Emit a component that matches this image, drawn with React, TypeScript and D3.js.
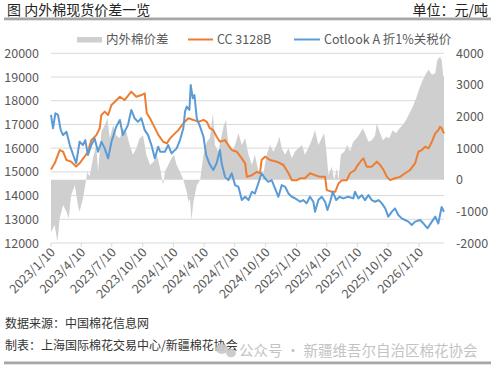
import React from "react";
import * as d3 from "d3";

// 数据：CC 3128B、Cotlook A（折1%关税）与内外棉价差（元/吨）
const ccSeries: [string, number][] = [
  ["2023-01-10", 15100], ["2023-01-21", 15360], ["2023-02-05", 15920], ["2023-02-15", 15850],
  ["2023-02-25", 15500], ["2023-03-11", 15430], ["2023-03-26", 15220], ["2023-04-05", 15360],
  ["2023-04-20", 15640], ["2023-04-30", 15850], ["2023-05-10", 16340], ["2023-05-25", 16550],
  ["2023-06-04", 16840], ["2023-06-09", 17400], ["2023-06-19", 17540], ["2023-06-29", 17400],
  ["2023-07-09", 17820], ["2023-07-19", 17960], ["2023-08-03", 18170], ["2023-08-17", 18030],
  ["2023-09-06", 18380], ["2023-09-21", 18170], ["2023-10-06", 18240], ["2023-10-16", 18310],
  ["2023-10-22", 17480], ["2023-11-01", 17250], ["2023-11-11", 16970], ["2023-11-26", 16550],
  ["2023-12-10", 16270], ["2023-12-21", 16200], ["2023-12-30", 16410], ["2024-01-09", 16550],
  ["2024-01-24", 16760], ["2024-02-08", 17050], ["2024-02-23", 17260], ["2024-03-09", 17190],
  ["2024-03-24", 17110], ["2024-04-08", 17190], ["2024-04-18", 17110], ["2024-04-27", 16840],
  ["2024-05-07", 16760], ["2024-05-17", 16480], ["2024-05-27", 16270], ["2024-06-11", 16340],
  ["2024-06-21", 16130], ["2024-07-01", 15920], ["2024-07-16", 15850], ["2024-07-31", 15570],
  ["2024-08-10", 15360], ["2024-08-15", 14790], ["2024-08-30", 14860], ["2024-09-14", 15000],
  ["2024-09-23", 14940], ["2024-09-28", 15500], ["2024-10-08", 15640], ["2024-10-23", 15500],
  ["2024-11-12", 15430], ["2024-12-02", 15290], ["2024-12-17", 14940], ["2024-12-27", 14650],
  ["2025-01-11", 14650], ["2025-01-21", 14730], ["2025-02-04", 14730], ["2025-02-19", 14940],
  ["2025-03-06", 14860], ["2025-03-21", 14790], ["2025-04-05", 14790], ["2025-04-10", 14230],
  ["2025-04-25", 14160], ["2025-05-05", 14160], ["2025-05-15", 14510], ["2025-05-25", 14650],
  ["2025-06-09", 14650], ["2025-06-18", 14940], ["2025-07-03", 15080], ["2025-07-08", 15220],
  ["2025-07-23", 15500], ["2025-07-28", 15570], ["2025-08-07", 15220], ["2025-08-22", 15220],
  ["2025-09-06", 15430], ["2025-09-16", 15290], ["2025-09-26", 15080], ["2025-10-06", 14790],
  ["2025-10-16", 14650], ["2025-10-30", 14730], ["2025-11-14", 14790], ["2025-11-29", 14940],
  ["2025-12-14", 15080], ["2025-12-29", 15360], ["2026-01-08", 15850], ["2026-01-18", 15920],
  ["2026-01-28", 16060], ["2026-02-07", 15990], ["2026-02-17", 16270], ["2026-02-27", 16620],
  ["2026-03-08", 16760], ["2026-03-13", 16900], ["2026-03-18", 16840], ["2026-03-25", 16620],
];

const cotlookSeries: [string, number][] = [
  ["2023-01-10", 17400], ["2023-01-16", 16840], ["2023-01-23", 17470], ["2023-01-31", 17400],
  ["2023-02-08", 16760], ["2023-02-15", 16550], ["2023-02-25", 16690], ["2023-03-07", 16130],
  ["2023-03-17", 15710], ["2023-03-26", 15360], ["2023-04-05", 16270], ["2023-04-15", 16130],
  ["2023-04-22", 16340], ["2023-04-30", 15710], ["2023-05-10", 16130], ["2023-05-20", 16410],
  ["2023-05-30", 15850], ["2023-06-09", 16270], ["2023-06-19", 15990], ["2023-06-29", 15570],
  ["2023-07-09", 16270], ["2023-07-23", 16900], ["2023-08-03", 17190], ["2023-08-12", 16550],
  ["2023-08-27", 16970], ["2023-09-06", 17610], ["2023-09-16", 17260], ["2023-09-26", 17110],
  ["2023-10-06", 17260], ["2023-10-16", 16760], ["2023-10-26", 16550], ["2023-11-05", 16130],
  ["2023-11-15", 15570], ["2023-11-25", 16060], ["2023-12-01", 15850], ["2023-12-15", 15850],
  ["2023-12-25", 16130], ["2024-01-04", 15780], ["2024-01-19", 15990], ["2024-01-29", 16340],
  ["2024-02-08", 16840], ["2024-02-13", 17540], ["2024-02-18", 17750], ["2024-02-26", 17610],
  ["2024-03-01", 18660], ["2024-03-07", 18100], ["2024-03-12", 18240], ["2024-03-19", 17260],
  ["2024-03-29", 16900], ["2024-04-08", 16480], ["2024-04-16", 15710], ["2024-04-25", 15360],
  ["2024-05-07", 15080], ["2024-05-17", 15360], ["2024-05-27", 15920], ["2024-06-01", 15360],
  ["2024-06-11", 14790], ["2024-06-21", 14650], ["2024-07-01", 14940], ["2024-07-11", 14440],
  ["2024-07-21", 14370], ["2024-07-31", 13810], ["2024-08-10", 13950], ["2024-08-20", 13810],
  ["2024-08-30", 14160], ["2024-09-08", 14090], ["2024-09-18", 14510], ["2024-09-28", 14940],
  ["2024-10-08", 14730], ["2024-10-18", 14580], ["2024-10-28", 14650], ["2024-11-07", 14300],
  ["2024-11-17", 13950], ["2024-11-27", 14440], ["2024-12-07", 14370], ["2024-12-17", 14090],
  ["2024-12-27", 13950], ["2025-01-06", 13880], ["2025-01-21", 13740], ["2025-01-30", 13810],
  ["2025-02-09", 13670], ["2025-02-19", 13950], ["2025-03-01", 13740], ["2025-03-06", 13320],
  ["2025-03-16", 13810], ["2025-03-26", 13950], ["2025-04-05", 13740], ["2025-04-12", 13390],
  ["2025-04-20", 13740], ["2025-04-28", 14160], ["2025-05-08", 13810], ["2025-05-18", 13950],
  ["2025-05-29", 13880], ["2025-06-13", 13950], ["2025-06-28", 13880], ["2025-07-03", 14160],
  ["2025-07-13", 13880], ["2025-07-23", 14020], ["2025-08-02", 13810], ["2025-08-12", 14020],
  ["2025-08-22", 13810], ["2025-09-01", 13740], ["2025-09-11", 13810], ["2025-09-21", 13670],
  ["2025-10-01", 13460], ["2025-10-10", 13110], ["2025-10-21", 13320], ["2025-10-30", 13460],
  ["2025-11-09", 13180], ["2025-11-19", 13040], ["2025-11-29", 12970], ["2025-12-09", 12900],
  ["2025-12-19", 12760], ["2025-12-29", 12900], ["2026-01-13", 12970], ["2026-01-23", 12820],
  ["2026-02-04", 12620], ["2026-02-17", 12900], ["2026-02-27", 13110], ["2026-03-08", 12820],
  ["2026-03-18", 13520], ["2026-03-25", 13320],
];

const spreadSeries: [string, number][] = [
  ["2023-01-10", -1650], ["2023-01-21", -1430], ["2023-01-29", -1960], ["2023-02-05", -1220],
  ["2023-02-15", -800], ["2023-02-25", -1010], ["2023-03-04", -1220], ["2023-03-11", -480],
  ["2023-03-22", -170], ["2023-03-31", -800], ["2023-04-05", -1010], ["2023-04-15", -590],
  ["2023-04-22", -170], ["2023-04-28", 250], ["2023-05-05", 100], ["2023-05-15", 680],
  ["2023-05-25", 1100], ["2023-05-30", 250], ["2023-06-09", 1520], ["2023-06-19", 1730],
  ["2023-06-27", 1940], ["2023-07-04", 1310], ["2023-07-14", 1730], ["2023-07-23", 1410],
  ["2023-08-03", 1310], ["2023-08-12", 1620], ["2023-08-22", 1520], ["2023-09-01", 1100],
  ["2023-09-11", 790], ["2023-09-21", 1000], ["2023-10-01", 1310], ["2023-10-11", 1410],
  ["2023-10-21", 790], ["2023-11-01", 470], ["2023-11-11", 570], ["2023-11-21", 790],
  ["2023-12-01", 360], ["2023-12-10", -170], ["2023-12-15", 250], ["2023-12-25", 470],
  ["2024-01-04", 680], ["2024-01-11", 790], ["2024-01-19", 470], ["2024-01-29", 250],
  ["2024-02-08", 0], ["2024-02-18", -380], ["2024-02-23", -700], ["2024-02-28", -600],
  ["2024-03-03", -1280], ["2024-03-09", -700], ["2024-03-19", -170], ["2024-03-29", 0],
  ["2024-04-08", 790], ["2024-04-18", 1200], ["2024-04-27", 1310], ["2024-05-06", 2100],
  ["2024-05-12", 1100], ["2024-05-22", 890], ["2024-06-01", 1410], ["2024-06-08", 1730],
  ["2024-06-14", 1890], ["2024-06-21", 1100], ["2024-07-01", 890], ["2024-07-11", 1100],
  ["2024-07-21", 1470], ["2024-07-31", 1100], ["2024-08-10", 1310], ["2024-08-20", 790],
  ["2024-08-30", 470], ["2024-09-08", 790], ["2024-09-18", 300], ["2024-09-28", 0],
  ["2024-10-03", 200], ["2024-10-13", 790], ["2024-10-23", 1100], ["2024-11-02", 890],
  ["2024-11-12", 1100], ["2024-11-20", 1360], ["2024-11-27", 990], ["2024-12-07", 790],
  ["2024-12-17", 1000], ["2024-12-27", 680], ["2025-01-06", 900], ["2025-01-15", 990],
  ["2025-01-26", 1100], ["2025-02-04", 790], ["2025-02-14", 1000], ["2025-02-24", 1250],
  ["2025-03-06", 1570], ["2025-03-16", 1100], ["2025-03-26", 1310], ["2025-04-02", 1470],
  ["2025-04-08", 990], ["2025-04-15", 150], ["2025-04-25", 410], ["2025-05-02", 0],
  ["2025-05-10", 360], ["2025-05-15", 0], ["2025-05-22", 790], ["2025-06-01", 890],
  ["2025-06-10", 1100], ["2025-06-18", 900], ["2025-06-28", 1200], ["2025-07-08", 1310],
  ["2025-07-18", 1470], ["2025-07-26", 1620], ["2025-08-02", 1470], ["2025-08-12", 1200],
  ["2025-08-22", 1250], ["2025-09-01", 1410], ["2025-09-06", 1780], ["2025-09-14", 1520],
  ["2025-09-24", 1250], ["2025-10-04", 1360], ["2025-10-13", 1310], ["2025-10-23", 1570],
  ["2025-11-02", 1470], ["2025-11-12", 1620], ["2025-11-22", 1730], ["2025-12-02", 1890],
  ["2025-12-12", 2100], ["2025-12-22", 2310], ["2026-01-01", 2580], ["2026-01-11", 2900],
  ["2026-01-21", 3160], ["2026-01-31", 3370], ["2026-02-07", 3480], ["2026-02-17", 3320],
  ["2026-02-27", 3370], ["2026-03-05", 3790], ["2026-03-13", 3890], ["2026-03-18", 3790],
  ["2026-03-23", 3270], ["2026-03-25", 3300],
];

const xTickLabels = [
  "2023/1/10", "2023/4/10", "2023/7/10", "2023/10/10", "2024/1/10", "2024/4/10", "2024/7/10",
  "2024/10/10", "2025/1/10", "2025/4/10", "2025/7/10", "2025/10/10", "2026/1/10",
];
const leftTicks = [12000, 13000, 14000, 15000, 16000, 17000, 18000, 19000, 20000];
const rightTicks = [-2000, -1000, 0, 1000, 2000, 3000, 4000];

const FONT = '"Noto Sans CJK SC", "Noto Sans", sans-serif';
const ORANGE = "#ED7D31";
const BLUE = "#5B9BD5";
const AREA = "#cfcfcf";
const GRID = "#d9d9d9";
const LABEL = "#595959";

const W = 496;
const H = 372;
const plot = { left: 51, right: 444, top: 53.3, bottom: 243 };

const parse = d3.timeParse("%Y-%m-%d");
const parseTick = d3.timeParse("%Y/%m/%d");

export default function App() {
  const x = d3
    .scaleTime()
    .domain([parse("2023-01-10")!, parse("2026-03-25")!])
    .range([plot.left, plot.right]);
  const yL = d3.scaleLinear().domain([12000, 20000]).range([plot.bottom, plot.top]);
  const yR = d3.scaleLinear().domain([-2000, 4000]).range([plot.bottom, plot.top]);

  const line = d3
    .line<[string, number]>()
    .x((d) => x(parse(d[0])!))
    .y((d) => yL(d[1]));
  const area = d3
    .area<[string, number]>()
    .x((d) => x(parse(d[0])!))
    .y0(yR(0))
    .y1((d) => yR(d[1]));

  return (
    <svg
      width={W}
      height={H}
      style={{ position: "absolute", left: 0, top: 0, background: "#fff" }}
      fontFamily={FONT}
    >
      {/* 标题栏 */}
      <text x={7} y={15} fontSize={14} fill="#222">图 内外棉现货价差一览</text>
      <text x={488} y={15} fontSize={14} fill="#222" textAnchor="end">单位：元/吨</text>
      <rect x={4} y={17.5} width={487} height={2.8} fill="#a6a6a6" />

      {/* 图例 */}
      <rect x={77} y={37} width={25} height={5.5} fill={AREA} />
      <text x={106} y={44} fontSize={12.5} fill={LABEL}>内外棉价差</text>
      <line x1={188} x2={213} y1={39.5} y2={39.5} stroke={ORANGE} strokeWidth={2} />
      <text x={217} y={44} fontSize={12.5} fill={LABEL}>CC 3128B</text>
      <line x1={294} x2={320} y1={39.5} y2={39.5} stroke={BLUE} strokeWidth={2} />
      <text x={324} y={44} fontSize={12.5} fill={LABEL}>Cotlook A 折1%关税价</text>

      {/* 网格线 */}
      {leftTicks.map((t) => (
        <line key={t} x1={plot.left} x2={plot.right} y1={yL(t)} y2={yL(t)} stroke={GRID} strokeWidth={1} />
      ))}

      {/* 价差面积 */}
      <path d={area(spreadSeries)!} fill={AREA} />

      {/* 两条价格线 */}
      <path d={line(ccSeries)!} fill="none" stroke={ORANGE} strokeWidth={2} strokeLinejoin="round" />
      <path d={line(cotlookSeries)!} fill="none" stroke={BLUE} strokeWidth={2} strokeLinejoin="round" />

      {/* 左轴 */}
      {leftTicks.map((t) => (
        <text key={t} x={39} y={yL(t) + 4.5} fontSize={12.5} fill={LABEL} textAnchor="end">{t}</text>
      ))}
      {/* 右轴 */}
      {rightTicks.map((t) => (
        <text key={t} x={456} y={yR(t) + 4.5} fontSize={12.5} fill={LABEL}>{t}</text>
      ))}

      {/* X 轴刻度 */}
      {xTickLabels.map((s) => {
        const px = x(parseTick(s)!);
        return (
          <g key={s}>
            <line x1={px} x2={px} y1={plot.bottom} y2={plot.bottom + 4} stroke={GRID} />
            <text
              transform={`translate(${px + 5},${plot.bottom + 10}) rotate(-45)`}
              fontSize={12.5}
              fill={LABEL}
              textAnchor="end"
            >
              {s}
            </text>
          </g>
        );
      })}

      {/* 来源 */}
      <text x={5} y={328} fontSize={12} fill="#333">数据来源：中国棉花信息网</text>
      <text x={5} y={350} fontSize={12} fill="#333">制表：上海国际棉花交易中心/新疆棉花协会</text>

      {/* 水印 */}
      <g fill="#c8c8c8" opacity={0.9}>
        <ellipse cx={222} cy={349} rx={6} ry={5} />
        <ellipse cx={231} cy={353} rx={5} ry={4.2} />
      </g>
      <text x={239} y={356} fontSize={14.5} fill="#bdbdbd" opacity={0.9}>公众号 · 新疆维吾尔自治区棉花协会</text>

      <rect x={4} y={361.5} width={487} height={2.8} fill="#a6a6a6" />
    </svg>
  );
}
